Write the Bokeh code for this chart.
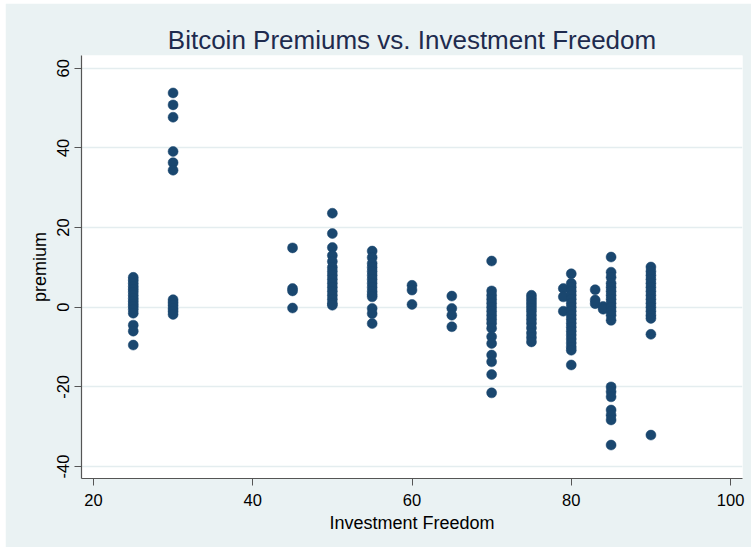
from bokeh.plotting import figure
from bokeh.models import ColumnDataSource, Range1d, FixedTicker, Spacer, CustomJSTickFormatter
from bokeh.layouts import column, row
from bokeh.embed import file_html
from bokeh.resources import INLINE

# Investment Freedom score groups and the bitcoin premiums (%) observed at each
premium_25 = [7.5, 6.8, 6.0, 5.2, 4.5, 3.8, 3.0, 2.2, 1.5, 0.8, 0.2, -0.6, -1.5, -4.5, -6.0, -9.5]
premium_30 = [53.8, 50.8, 47.7, 39.1, 36.3, 34.4, 1.9, 1.2, 0.5, -0.3, -1.0, -1.8]
premium_45 = [14.9, 4.7, 4.1, -0.2]
premium_50 = [23.6, 18.5, 15.0, 13.0, 11.5, 10.0, 9.0, 8.0, 7.0, 6.0, 5.0, 4.0, 3.0, 2.0, 1.0, 0.5]
premium_55 = [14.1, 12.5, 11.0, 10.0, 9.0, 8.0, 7.0, 6.0, 5.0, 4.0, 3.2, 2.6, -0.3, -1.6, -4.1]
premium_60 = [5.5, 4.3, 0.7]
premium_65 = [2.8, -0.3, -2.0, -4.9]
premium_70 = [11.6, 4.1, 3.0, 2.0, 1.0, 0.0, -1.0, -2.0, -3.0, -4.0, -5.3, -7.4, -9.1, -12.0,
              -13.7, -16.9, -21.5]
premium_75 = [3.0, 2.2, 1.4, 0.6, -0.2, -1.0, -2.0, -3.0, -4.0, -5.2, -6.5, -7.6, -8.7]
premium_79 = [4.7, 2.6, -1.0]
premium_80 = [8.4, 6.0, 5.0, 4.0, 3.0, 2.0, 1.0, 0.0, -1.0, -2.0, -3.0, -4.0, -5.0, -6.0,
              -7.0, -8.0, -9.0, -10.0, -10.8, -14.5]
premium_83 = [4.4, 1.8, 0.9]
premium_84 = [0.2, -0.5]
premium_85 = [12.6, 8.8, 7.5, 6.0, 5.0, 4.0, 3.0, 2.0, 1.0, 0.0, -1.0, -2.0, -3.3,
              -20.0, -21.2, -22.5, -25.8, -27.1, -28.3, -34.6]
premium_90 = [10.1, 9.0, 8.0, 7.0, 6.0, 5.0, 4.0, 3.0, 2.0, 1.0, 0.0, -1.0, -2.0, -2.8,
              -6.8, -32.1]

freedom_levels = [25, 30, 45, 50, 55, 60, 65, 70, 75, 79, 80, 83, 84, 85, 90]
premium_groups = [premium_25, premium_30, premium_45, premium_50, premium_55, premium_60,
                  premium_65, premium_70, premium_75, premium_79, premium_80, premium_83,
                  premium_84, premium_85, premium_90]

x_ticks = [20, 40, 60, 80, 100]
y_ticks = [-40, -20, 0, 20, 40, 60]

xs, ys = [], []
for level, group in zip(freedom_levels, premium_groups):
    xs.extend([level] * len(group))
    ys.extend(group)
source = ColumnDataSource(data=dict(freedom=xs, premium=ys))

GRAPH_BG = "#EAF2F3"
NAVY = "#1A476F"
AXIS_GRAY = "#555555"
FONT = "Liberation Sans"

p = figure(width=746, height=544, output_backend="svg", toolbar_location=None,
           x_range=Range1d(18.5, 101.5), y_range=Range1d(-43.0, 63.2),
           min_border_left=76, min_border_right=9, min_border_top=52, min_border_bottom=69,
           background_fill_color="white", border_fill_color=GRAPH_BG,
           outline_line_color=None)

p.title.text = "Bitcoin Premiums vs. Investment Freedom"
p.title.align = "center"
p.title.text_font = FONT
p.title.text_font_size = "26px"
p.title.text_font_style = "normal"
p.title.text_color = "#1E2B4E"
p.title.standoff = 2

p.scatter("freedom", "premium", source=source, size=10,
          fill_color=NAVY, line_color=NAVY, line_width=0.5)

# plain ASCII hyphen for negative tick values
plain_ints = CustomJSTickFormatter(code="return String(Math.round(tick));")

for ax in (p.xaxis, p.yaxis):
    ax.axis_line_color = AXIS_GRAY
    ax.axis_line_width = 1.2
    ax.major_tick_line_color = AXIS_GRAY
    ax.major_tick_out = 7
    ax.major_tick_in = 0
    ax.minor_tick_line_color = None
    ax.major_label_text_font = FONT
    ax.major_label_text_font_size = "16.5px"
    ax.major_label_text_color = "black"
    ax.axis_label_text_font = FONT
    ax.axis_label_text_font_size = "18px"
    ax.axis_label_text_font_style = "normal"
    ax.axis_label_text_color = "black"
    ax.formatter = plain_ints

p.xaxis.ticker = FixedTicker(ticks=x_ticks)
p.yaxis.ticker = FixedTicker(ticks=y_ticks)
p.xaxis.axis_label = "Investment Freedom"
p.yaxis.axis_label = "premium"
p.xaxis.major_label_standoff = 8
p.xaxis.axis_label_standoff = 4
p.yaxis.major_label_orientation = "vertical"
p.yaxis.major_label_standoff = 5
p.yaxis.axis_label_standoff = 5

p.xgrid.grid_line_color = None
p.ygrid.grid_line_color = "#E4EDEF"
p.ygrid.grid_line_width = 1.5

layout = column(Spacer(height=3), row(Spacer(width=5), p))

with open("out.html", "w") as f:
    f.write(file_html(layout, INLINE))
